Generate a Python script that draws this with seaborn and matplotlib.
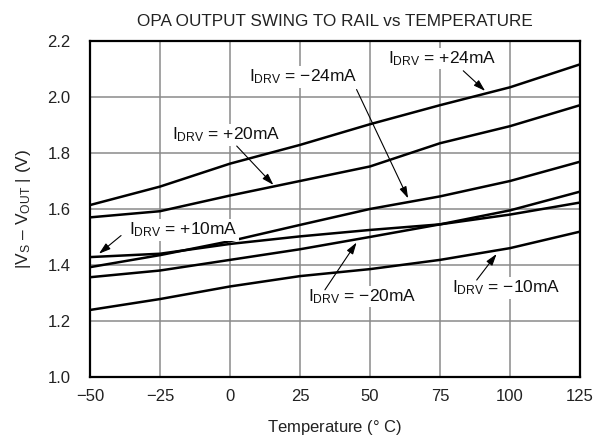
import numpy as np
import pandas as pd
import matplotlib
matplotlib.use("Agg")
import matplotlib.pyplot as plt
import seaborn as sns

temps = [-50, -25, 0, 25, 50, 75, 100, 125]
i_p24 = [1.614, 1.680, 1.762, 1.829, 1.903, 1.971, 2.035, 2.117]
i_p20 = [1.570, 1.592, 1.648, 1.700, 1.752, 1.835, 1.896, 1.971]
i_m24 = [1.392, 1.435, 1.485, 1.543, 1.600, 1.645, 1.700, 1.769]
i_p10 = [1.428, 1.440, 1.475, 1.502, 1.525, 1.545, 1.580, 1.623]
i_m20 = [1.356, 1.380, 1.418, 1.456, 1.500, 1.545, 1.595, 1.662]
i_m10 = [1.239, 1.278, 1.323, 1.360, 1.385, 1.418, 1.460, 1.519]

x_ticks = [-50, -25, 0, 25, 50, 75, 100, 125]
x_ticklabels = ["\u221250", "\u221225", "0", "25", "50", "75", "100", "125"]
y_ticks = [1.0, 1.2, 1.4, 1.6, 1.8, 2.0, 2.2]

# label text, text position, arrow tail, arrow tip
labels = [
    ("\u221224mA", (26, 2.072), (45.2, 2.027), (63.6, 1.638)),
    ("+24mA", (75.9, 2.138), (83.3, 2.094), (91.1, 2.022)),
    ("+20mA", (-1.5, 1.864), (2.4, 1.825), (15.5, 1.686)),
    ("+10mA", (-16.8, 1.525), (-38.9, 1.505), (-46.8, 1.440)),
    ("\u221220mA", (47.3, 1.287), (33.9, 1.311), (45.2, 1.480)),
    ("\u221210mA", (98.5, 1.317), (88.1, 1.346), (95.2, 1.439)),
]

sns.set_style("white")
plt.rcParams['font.family'] = ['Liberation Sans', 'DejaVu Sans']
plt.rcParams['mathtext.fontset'] = 'custom'
plt.rcParams['mathtext.rm'] = 'Liberation Sans'
plt.rcParams['mathtext.it'] = 'Liberation Sans'

fig = plt.figure(figsize=(6.08, 4.47), dpi=100)
ax = fig.add_axes([0.148, 0.157, 0.806, 0.751])

for vals in [i_p24, i_p20, i_m24, i_p10, i_m20, i_m10]:
    sns.lineplot(x=temps, y=vals, ax=ax, color="black", linewidth=1.8)

ax.set_xlim(-50, 125)
ax.set_ylim(1.0, 2.2)
ax.set_xticks(x_ticks)
ax.set_xticklabels(x_ticklabels)
ax.set_yticks(y_ticks)
ax.set_yticklabels([f"{v:.1f}" for v in y_ticks])
ax.tick_params(length=0, labelsize=12, colors="#222222")
ax.tick_params(axis="x", pad=9)
ax.tick_params(axis="y", pad=14)
ax.grid(True, color="#8a8a8a", linewidth=1.1)
ax.set_axisbelow(True)
for s in ax.spines.values():
    s.set_color("black")
    s.set_linewidth(1.6)

ax.set_title("OPA OUTPUT SWING TO RAIL vs TEMPERATURE", fontsize=12.3, pad=11, color="#222222")
ax.set_xlabel("Temperature ($\\degree$ C)", fontsize=12, labelpad=10, color="#222222")
ax.set_ylabel("|V$_\\mathregular{S}$ \u2013 V$_\\mathregular{OUT}$ | (V)", fontsize=12.5, labelpad=10, color="#222222")

for txt, pos, tail, tip in labels:
    ax.text(pos[0], pos[1], "I$_\\mathregular{DRV}$ = " + txt, fontsize=12.5,
            ha="center", va="center", color="#111111",
            bbox=dict(facecolor="white", edgecolor="none", pad=1))
    ax.annotate("", xy=tip, xytext=tail,
                arrowprops=dict(arrowstyle="-|>,head_length=0.7,head_width=0.22",
                                color="black", lw=0.8, shrinkA=0, shrinkB=0))

fig.savefig("out.png", dpi=100)
